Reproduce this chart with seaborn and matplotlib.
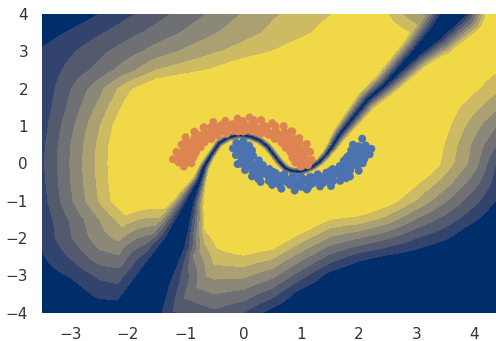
import numpy as np
import pandas as pd
import matplotlib
matplotlib.use("Agg")
import matplotlib.pyplot as plt
import seaborn as sns

# --- confidence levels (band units, >7 = yellow), every 0.5 ---
grid_x = [-3.5, -3.0, -2.5, -2.0, -1.5, -1.0, -0.5, 0.0, 0.5, 1.0, 1.5, 2.0, 2.5, 3.0, 3.5, 4.0, 4.5]
grid_y = [4.0, 3.5, 3.0, 2.5, 2.0, 1.5, 1.0, 0.5, 0.0, -0.5, -1.0, -1.5, -2.0, -2.5, -3.0, -3.5, -4.0]
level_rows = [
    [0.0, 0.2, 1.0, 1.8, 2.6, 3.4, 4.25, 5.1, 5.85, 6.4, 6.95, 7.6, 7.0, 5.0, 4.5, 7.3, 7.6],
    [0.4, 1.14, 1.86, 2.62, 3.38, 4.15, 4.92, 5.6, 6.22, 6.75, 7.4, 8.0, 7.8, 6.8, 6.5, 8.0, 7.8],
    [1.15, 1.82, 2.7, 3.57, 4.42, 5.2, 5.87, 6.44, 7.0, 7.6, 8.2, 8.5, 8.5, 8.0, 8.0, 8.2, 7.6],
    [1.2, 2.3, 3.34, 4.59, 6.0, 6.6, 7.15, 7.9, 8.5, 9, 9, 9, 9, 9, 9, 7.8, 6.9],
    [1.15, 2.93, 4.64, 6.73, 8.1, 8.6, 9, 9, 9, 9, 9, 9, 9, 9, 8.4, 7.2, 6.0],
    [1.3, 3.25, 5.3, 7.5, 9, 9, 9, 9, 9, 9, 9, 9, 9, 9, 7.7, 6.3, 4.8],
    [1.48, 3.68, 5.9, 8.2, 9, 9, 9, 9, 9, 9, 9, 9, 9, 9, 7.35, 5.4, 3.6],
    [1.68, 3.95, 6.23, 8.5, 9, 9, 9, 9, 9, 9, 9, 9, 9, 9, 6.9, 4.74, 2.57],
    [1.77, 4.05, 6.3, 8.6, 9, 9, 9, 9, 9, 9, 9, 9, 9, 9, 6.6, 4.53, 1.13],
    [1.65, 3.95, 6.23, 8.5, 9, 9, 9, 9, 9, 9, 9, 9, 9, 7.2, 5.5, 3.45, 1.0],
    [1.5, 3.8, 6.05, 8.3, 8.6, 8.0, 9, 9, 9, 9, 9, 8.7, 7.6, 5.93, 4.1, 2.33, 0.55],
    [1.26, 3.1, 4.96, 6.8, 6.7, 7.5, 8.0, 9, 9, 8.5, 7.0, 6.6, 5.55, 3.9, 2.6, 1.2, -0.4],
    [1.15, 2.9, 4.57, 5.5, 5.2, 6.0, 7.4, 8.5, 8.15, 6.47, 4.85, 4.03, 3.1, 2.0, 1.17, -0.3, -1.0],
    [0.85, 2.1, 3.6, 3.95, 3.8, 5.5, 6.5, 6.87, 6.23, 4.45, 2.69, 1.46, 0.77, 0.3, -0.5, -1.0, -1.0],
    [0.4, 1.1, 2.2, 2.6, 3.4, 4.5, 5.25, 5.24, 4.3, 2.43, 0.53, -0.5, -1.0, -1.0, -1.0, -1.0, -1.0],
    [0.0, 0.2, 1.3, 1.5, 2.7, 3.3, 4.0, 3.6, 2.4, 0.4, -0.5, -1.0, -1.0, -1.0, -1.0, -1.0, -1.0],
    [-0.5, -0.5, 0.0, 0.2, 1.6, 2.1, 2.75, 1.98, 0.5, -0.5, -1.0, -1.0, -1.0, -1.0, -1.0, -1.0, -1.0],
]

# --- decision boundary (dark stripe): path, navy core half width, band spacing ---
boundary_x = [-1.9, -1.53, -1.2, -0.92, -0.76, -0.68, -0.56, -0.42, -0.25, -0.07, 0.12, 0.28, 0.42, 0.51, 0.62,
              0.73, 0.85, 0.97, 1.1, 1.2, 1.32, 1.43, 1.55, 1.66, 1.9, 2.15, 2.45, 2.99, 3.35, 3.68]
boundary_y = [-4.2, -3.04, -2.15, -1.0, -0.45, -0.1, 0.22, 0.54, 0.7, 0.76, 0.72, 0.62, 0.45, 0.27, 0.05,
              -0.13, -0.21, -0.22, -0.17, -0.09, 0.04, 0.22, 0.47, 0.75, 1.22, 1.7, 2.1, 2.95, 3.5, 4.1]
core_w = [0.45, 0.29, 0.2, 0.07, 0.035, 0.028, 0.022, 0.022, 0.022, 0.022, 0.022, 0.022, 0.022, 0.022, 0.022,
          0.022, 0.022, 0.022, 0.022, 0.022, 0.022, 0.022, 0.024, 0.026, 0.028, 0.03, 0.035, 0.08, 0.14, 0.2]
band_w = [0.2, 0.15, 0.065, 0.03, 0.016, 0.012, 0.01, 0.01, 0.01, 0.01, 0.01, 0.01, 0.01, 0.01, 0.01,
          0.01, 0.01, 0.01, 0.01, 0.01, 0.01, 0.011, 0.014, 0.018, 0.023, 0.027, 0.031, 0.036, 0.047, 0.055]

# --- the two moons ---
orange_x = [1.00, 1.12, 0.90, 1.05, 1.18, 0.95, 0.85, 1.06, 0.94, 1.16,
            0.83, 1.03, 0.91, 1.10, 0.73, 0.97, 0.78, 0.97, 0.66, 0.81,
            0.85, 0.69, 0.55, 0.71, 0.57, 0.70, 0.44, 0.56, 0.41, 0.50,
            0.29, 0.36, 0.31, 0.25, 0.15, 0.19, 0.09, 0.11, 0.00, 0.00,
            -0.08, -0.10, -0.15, -0.19, -0.31, -0.25, -0.29, -0.38, -0.42, -0.52,
            -0.44, -0.56, -0.56, -0.68, -0.55, -0.68, -0.85, -0.68, -0.67, -0.84,
            -0.82, -1.00, -0.74, -0.98, -0.88, -1.07, -0.82, -1.02, -1.16, -0.92,
            -0.87, -1.08, -1.00, -1.22, -0.90, -1.12, -1.03,
            1.00, 0.92, 1.04, 0.93, 0.95, 0.84, 0.89, 0.79, 0.68, 0.73,
            0.60, 0.55, 0.43, 0.41, 0.30, 0.21, 0.14, 0.04, -0.05, -0.13,
            -0.22, -0.29, -0.40, -0.45, -0.55, -0.61, -0.62, -0.80, -0.76, -0.88,
            -0.87, -0.94, -0.90, -1.03, -0.99, -0.97,
            1.13, 0.89, 0.99, 1.12, 0.81, 0.93, 0.78, 0.89, 0.72, 0.83,
            0.54, 0.57, 0.55, 0.37, 0.35, 0.21, 0.18, 0.07, -0.02, -0.09,
            -0.20, -0.32, -0.33, -0.47, -0.45, -0.69, -0.64, -0.80, -0.69, -0.87,
            -1.01, -0.85, -1.03, -0.85, -1.12, -1.00]
orange_y = [-0.09, -0.05, 0.02, 0.06, 0.10, 0.12, 0.15, 0.19, 0.25, 0.31,
            0.30, 0.38, 0.42, 0.52, 0.42, 0.56, 0.55, 0.68, 0.55, 0.68,
            0.85, 0.69, 0.65, 0.84, 0.82, 1.00, 0.76, 0.97, 0.87, 1.08,
            0.79, 1.00, 1.16, 0.92, 0.86, 1.08, 1.00, 1.23, 0.85, 1.13,
            0.97, 1.20, 0.87, 1.05, 1.14, 0.92, 0.79, 1.03, 0.91, 1.11,
            0.75, 0.97, 0.79, 0.97, 0.65, 0.81, 0.85, 0.68, 0.57, 0.71,
            0.57, 0.70, 0.43, 0.57, 0.41, 0.50, 0.30, 0.37, 0.31, 0.25,
            0.15, 0.19, 0.09, 0.11, 0.00, 0.02, -0.09,
            0.04, 0.12, 0.23, 0.29, 0.39, 0.44, 0.56, 0.61, 0.62, 0.80,
            0.78, 0.86, 0.83, 0.98, 0.95, 0.94, 1.03, 0.93, 1.07, 0.98,
            0.99, 0.91, 0.97, 0.86, 0.87, 0.79, 0.68, 0.73, 0.58, 0.56,
            0.45, 0.39, 0.28, 0.23, 0.13, 0.04,
            0.02, 0.09, 0.19, 0.32, 0.31, 0.46, 0.47, 0.65, 0.63, 0.86,
            0.67, 0.85, 1.00, 0.82, 1.00, 0.85, 1.16, 0.99, 1.12, 0.85,
            1.01, 1.11, 0.86, 0.97, 0.75, 0.95, 0.73, 0.77, 0.56, 0.59,
            0.56, 0.38, 0.35, 0.21, 0.18, 0.07]
blue_x = [0.00, -0.12, 0.10, -0.05, -0.18, 0.05, 0.15, -0.06, 0.06, -0.13,
          0.17, -0.03, 0.09, -0.10, 0.27, 0.03, 0.22, 0.03, 0.34, 0.19,
          0.15, 0.31, 0.45, 0.29, 0.43, 0.30, 0.56, 0.44, 0.59, 0.50,
          0.71, 0.64, 0.66, 0.75, 0.85, 0.81, 0.91, 0.89, 1.00, 1.00,
          1.08, 1.10, 1.15, 1.19, 1.33, 1.25, 1.29, 1.38, 1.42, 1.52,
          1.44, 1.56, 1.56, 1.68, 1.55, 1.68, 1.85, 1.68, 1.67, 1.84,
          1.82, 2.00, 1.74, 1.98, 1.88, 2.07, 1.82, 2.02, 2.19, 1.92,
          1.87, 2.08, 2.00, 2.22, 1.90, 2.12, 2.06,
          0.03, 0.01, -0.03, 0.10, 0.06, 0.13, 0.12, 0.24, 0.20, 0.38,
          0.39, 0.45, 0.55, 0.60, 0.71, 0.78, 0.87, 0.95, 1.04, 1.14,
          1.21, 1.30, 1.41, 1.43, 1.55, 1.60, 1.73, 1.68, 1.79, 1.89,
          1.84, 1.95, 1.93, 2.04, 1.92, 2.00,
          0.00, -0.12, 0.14, -0.05, 0.13, -0.04, 0.10, 0.28, 0.16, 0.33,
          0.26, 0.51, 0.48, 0.63, 0.63, 0.75, 0.87, 0.92, 1.02, 1.12,
          1.17, 1.29, 1.32, 1.50, 1.53, 1.51, 1.78, 1.69, 1.85, 1.75,
          1.91, 1.79, 2.10, 1.98, 1.88, 2.13]
blue_y = [0.59, 0.55, 0.48, 0.44, 0.40, 0.38, 0.35, 0.31, 0.25, 0.22,
          0.20, 0.12, 0.08, -0.02, 0.08, -0.06, -0.05, -0.18, -0.05, -0.18,
          -0.35, -0.19, -0.15, -0.34, -0.32, -0.50, -0.26, -0.47, -0.37, -0.58,
          -0.29, -0.50, -0.68, -0.42, -0.36, -0.58, -0.50, -0.73, -0.35, -0.63,
          -0.47, -0.70, -0.37, -0.55, -0.62, -0.42, -0.29, -0.53, -0.41, -0.61,
          -0.25, -0.47, -0.29, -0.47, -0.15, -0.31, -0.35, -0.18, -0.07, -0.21,
          -0.07, -0.20, 0.07, -0.07, 0.09, 0.00, 0.20, 0.13, 0.24, 0.25,
          0.35, 0.31, 0.41, 0.39, 0.50, 0.48, 0.66,
          0.46, 0.37, 0.27, 0.22, 0.11, 0.05, -0.06, -0.08, -0.23, -0.18,
          -0.29, -0.37, -0.36, -0.47, -0.41, -0.49, -0.48, -0.57, -0.43, -0.53,
          -0.44, -0.45, -0.48, -0.33, -0.36, -0.28, -0.30, -0.12, -0.11, -0.06,
          0.06, 0.11, 0.21, 0.27, 0.38, 0.46,
          0.48, 0.38, 0.33, 0.20, 0.17, -0.01, -0.04, -0.02, -0.23, -0.20,
          -0.42, -0.22, -0.44, -0.34, -0.59, -0.50, -0.34, -0.62, -0.49, -0.66,
          -0.36, -0.52, -0.34, -0.52, -0.37, -0.20, -0.40, -0.17, -0.19, -0.01,
          0.00, 0.15, 0.12, 0.26, 0.36, 0.42]

sns.set_style("white")

fig = plt.figure(figsize=(4.96, 3.41), dpi=100)
ax = fig.add_axes([0.0847, 0.083, 0.9153, 0.876])

xs = np.linspace(-3.49, 4.38, 520)
ys = np.linspace(-4.0, 4.0, 420)
XX, YY = np.meshgrid(xs, ys)

# outer confidence: the read grid, linear between read cells (same as contourf does)
gy = np.array(grid_y)[::-1]
G = np.array(level_rows)[::-1]
along_x = np.array([np.interp(xs, grid_x, row) for row in G])
outer = np.array([np.interp(ys, gy, along_x[:, j]) for j in range(len(xs))]).T

# stripe along the decision boundary (y squeezed to screen aspect)
aspect = 0.65
bx, by = np.array(boundary_x), np.array(boundary_y) * aspect
Y2 = YY * aspect
stripe = np.full(XX.shape, 99.0)
for i in range(len(bx) - 1):
    dx, dy = bx[i + 1] - bx[i], by[i + 1] - by[i]
    t = np.clip(((XX - bx[i]) * dx + (Y2 - by[i]) * dy) / (dx * dx + dy * dy), 0, 1)
    d = np.hypot(XX - (bx[i] + t * dx), Y2 - (by[i] + t * dy))
    c = core_w[i] + t * (core_w[i + 1] - core_w[i])
    s = band_w[i] + t * (band_w[i + 1] - band_w[i])
    stripe = np.minimum(stripe, np.where(d < c, d / c, 1 + (d - c) / s))

field = np.minimum(outer, stripe)

cmap = plt.get_cmap("cividis")
band_colors = [cmap((2 * k + 1) / 16) for k in range(8)]
ax.contourf(XX, YY, field, levels=[-50, 1, 2, 3, 4, 5, 6, 7, 50], colors=band_colors, zorder=0)

df = pd.DataFrame({
    "x": orange_x + blue_x,
    "y": orange_y + blue_y,
    "moon": ["upper"] * len(orange_x) + ["lower"] * len(blue_x),
})
sns.scatterplot(data=df, x="x", y="y", hue="moon", palette={"upper": "#DD8452", "lower": "#4C72B0"},
                s=32, linewidth=0, legend=False, ax=ax, zorder=3)

ax.set_xlim(-3.49, 4.38)
ax.set_ylim(-4, 4)
ax.set_xticks(range(-3, 5))
ax.set_yticks(range(-4, 5))
ax.set_xlabel("")
ax.set_ylabel("")
ax.tick_params(labelsize=11, pad=10, length=0, colors="#333333")
sns.despine(ax=ax, left=True, bottom=True)

fig.savefig("out.png", dpi=100)
